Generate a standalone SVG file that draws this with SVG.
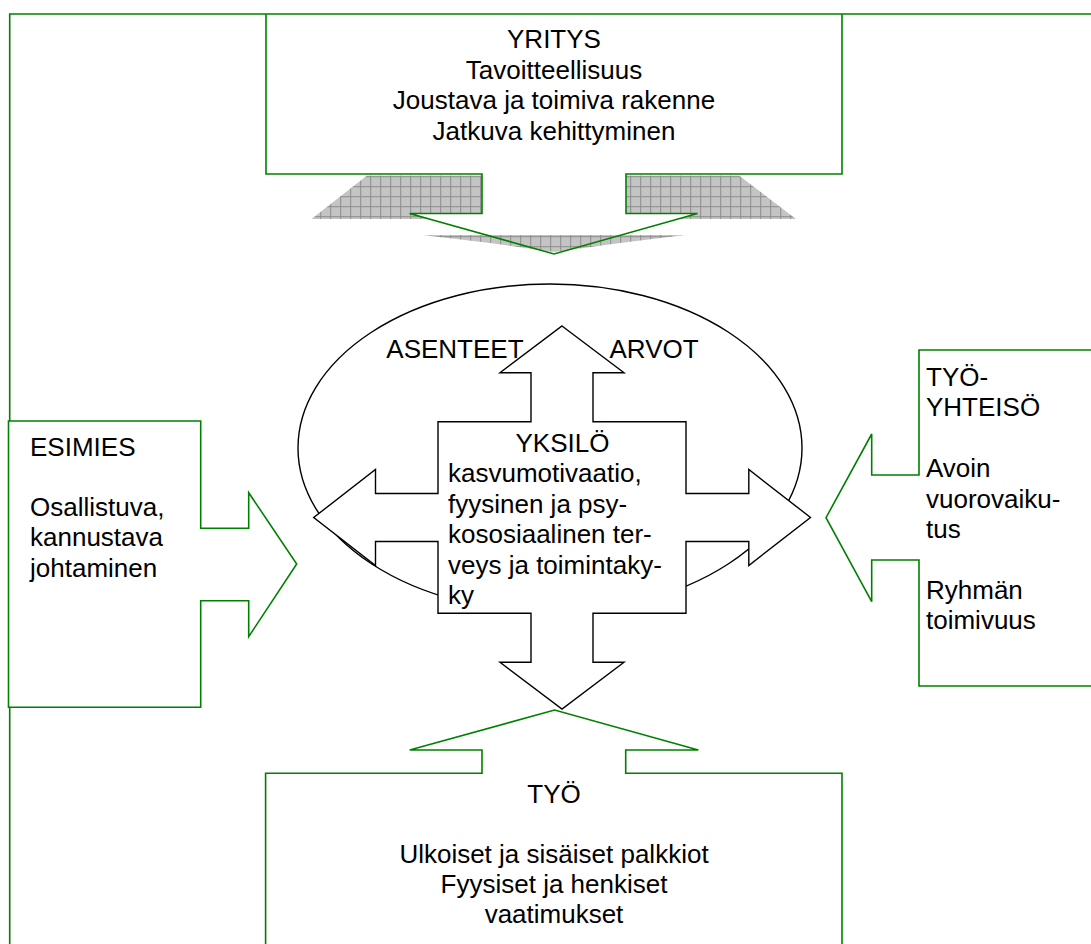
<svg xmlns="http://www.w3.org/2000/svg" width="1091" height="944" viewBox="0 0 1091 944">
  <style>
    .g { fill: none; stroke: #008000; stroke-width: 1.6; stroke-linejoin: miter; }
    .gw { fill: #ffffff; stroke: #008000; stroke-width: 1.6; stroke-linejoin: miter; }
    .k { fill: #ffffff; stroke: #000000; stroke-width: 1.4; stroke-linejoin: miter; }
    .shade { fill: url(#hatch); stroke: none; }
    text { font-family: "Liberation Sans", Arial, sans-serif; font-size: 26px; fill: #000000; }
    .c { text-anchor: middle; }
  </style>
  <defs>
    <pattern id="hatch" patternUnits="userSpaceOnUse" x="0.2" y="6.2" width="10" height="10">
      <rect width="10" height="10" fill="#c4c4c4"/>
      <path d="M0,0.5 H10 M0.5,0 V10" stroke="#8c8c8c" stroke-width="1"/>
    </pattern>
  </defs>
  <rect width="1091" height="944" fill="#ffffff"/>

  <!-- outer frame -->
  <path id="frame" class="g" d="M9.7,950 L9.7,14 L1095,14"/>

  <!-- shadow under the company arrow -->
  <g id="shadow">
    <polygon class="shade" points="367,175.5 482,175.5 482,213 412,213 430,219 311.5,219"/>
    <polygon class="shade" points="626,175.5 739,175.5 796,219 678,219 697,213 626,213"/>
    <polygon class="shade" points="422,235 685,235 620,243 554,252 490,243"/>
  </g>

  <!-- YRITYS -->
  <g id="yritys">
    <path class="g" d="M266,14 L266,174 L482,174 L482,213.5 L409.5,213.5 L554,254 L697.5,213.5 L626,213.5 L626,174 L842,174 L842,14"/>
    <text class="c" x="554" y="48.3">YRITYS</text>
    <text class="c" x="554" y="78.8">Tavoitteellisuus</text>
    <text class="c" x="554" y="109.3">Joustava ja toimiva rakenne</text>
    <text class="c" x="554" y="139.8">Jatkuva kehittyminen</text>
  </g>

  <!-- YKSILÖ: ellipse with four-way arrow -->
  <g id="yksilo">
    <ellipse cx="550" cy="448" rx="252" ry="164" fill="#ffffff" stroke="#000000" stroke-width="1.4"/>
    <path class="k" d="M562,326 L624,372.7 L593,372.7 L593,421.7 L686,421.7 L686,493.5 L748.8,493.5 L748.8,469.5 L810.5,517.5 L748.8,565.5 L748.8,541.5 L686,541.5 L686,613.3 L593,613.3 L593,662.3 L624,662.3 L562,709 L500,662.3 L531,662.3 L531,613.3 L438,613.3 L438,541.5 L375.5,541.5 L375.5,565.5 L313.7,517.5 L375.5,469.5 L375.5,493.5 L438,493.5 L438,421.7 L531,421.7 L531,372.7 L500,372.7 Z"/>
    <text x="386.3" y="358.3">ASENTEET</text>
    <text x="609.5" y="358.3">ARVOT</text>
    <text class="c" x="562.5" y="451.5">YKSILÖ</text>
    <text x="448" y="482">kasvumotivaatio,</text>
    <text x="448" y="512.5">fyysinen ja psy-</text>
    <text x="448" y="543">kososiaalinen ter-</text>
    <text x="448" y="573.5">veys ja toimintaky-</text>
    <text x="448" y="604">ky</text>
  </g>

  <!-- ESIMIES -->
  <g id="esimies">
    <path class="gw" d="M8.5,421 L200.7,421 L200.7,528.3 L248.7,528.3 L248.7,492.7 L296.7,564 L248.7,636.7 L248.7,600.7 L200.7,600.7 L200.7,707.3 L8.5,707.3 Z"/>
    <text x="30" y="455.5">ESIMIES</text>
    <text x="30" y="515.5">Osallistuva,</text>
    <text x="30" y="546">kannustava</text>
    <text x="30" y="576.5">johtaminen</text>
  </g>

  <!-- TYÖYHTEISÖ -->
  <g id="tyoyhteiso">
    <path class="gw" d="M919,350 L1095,350 L1095,686 L919,686 L919,560 L871.7,560 L871.7,601.7 L826,517.7 L871.7,434 L871.7,475 L919,475 Z"/>
    <text x="926" y="386">TYÖ-</text>
    <text x="926" y="416">YHTEISÖ</text>
    <text x="926" y="477">Avoin</text>
    <text x="926" y="507.5">vuorovaiku-</text>
    <text x="926" y="538">tus</text>
    <text x="926" y="599">Ryhmän</text>
    <text x="926" y="629">toimivuus</text>
  </g>

  <!-- TYÖ -->
  <g id="tyo">
    <path class="g" d="M265.6,950 L265.6,773.3 L482,773.3 L482,750 L409.7,750 L554.6,710 L698.3,750 L625.7,750 L625.7,773.3 L842,773.3 L842,950"/>
    <text class="c" x="554" y="802.7">TYÖ</text>
    <text class="c" x="554" y="863.3">Ulkoiset ja sisäiset palkkiot</text>
    <text class="c" x="554" y="893.3">Fyysiset ja henkiset</text>
    <text class="c" x="554" y="923.3">vaatimukset</text>
  </g>

  <!-- connectors are part of the node outlines above -->
  <g id="connectors"/>
</svg>
